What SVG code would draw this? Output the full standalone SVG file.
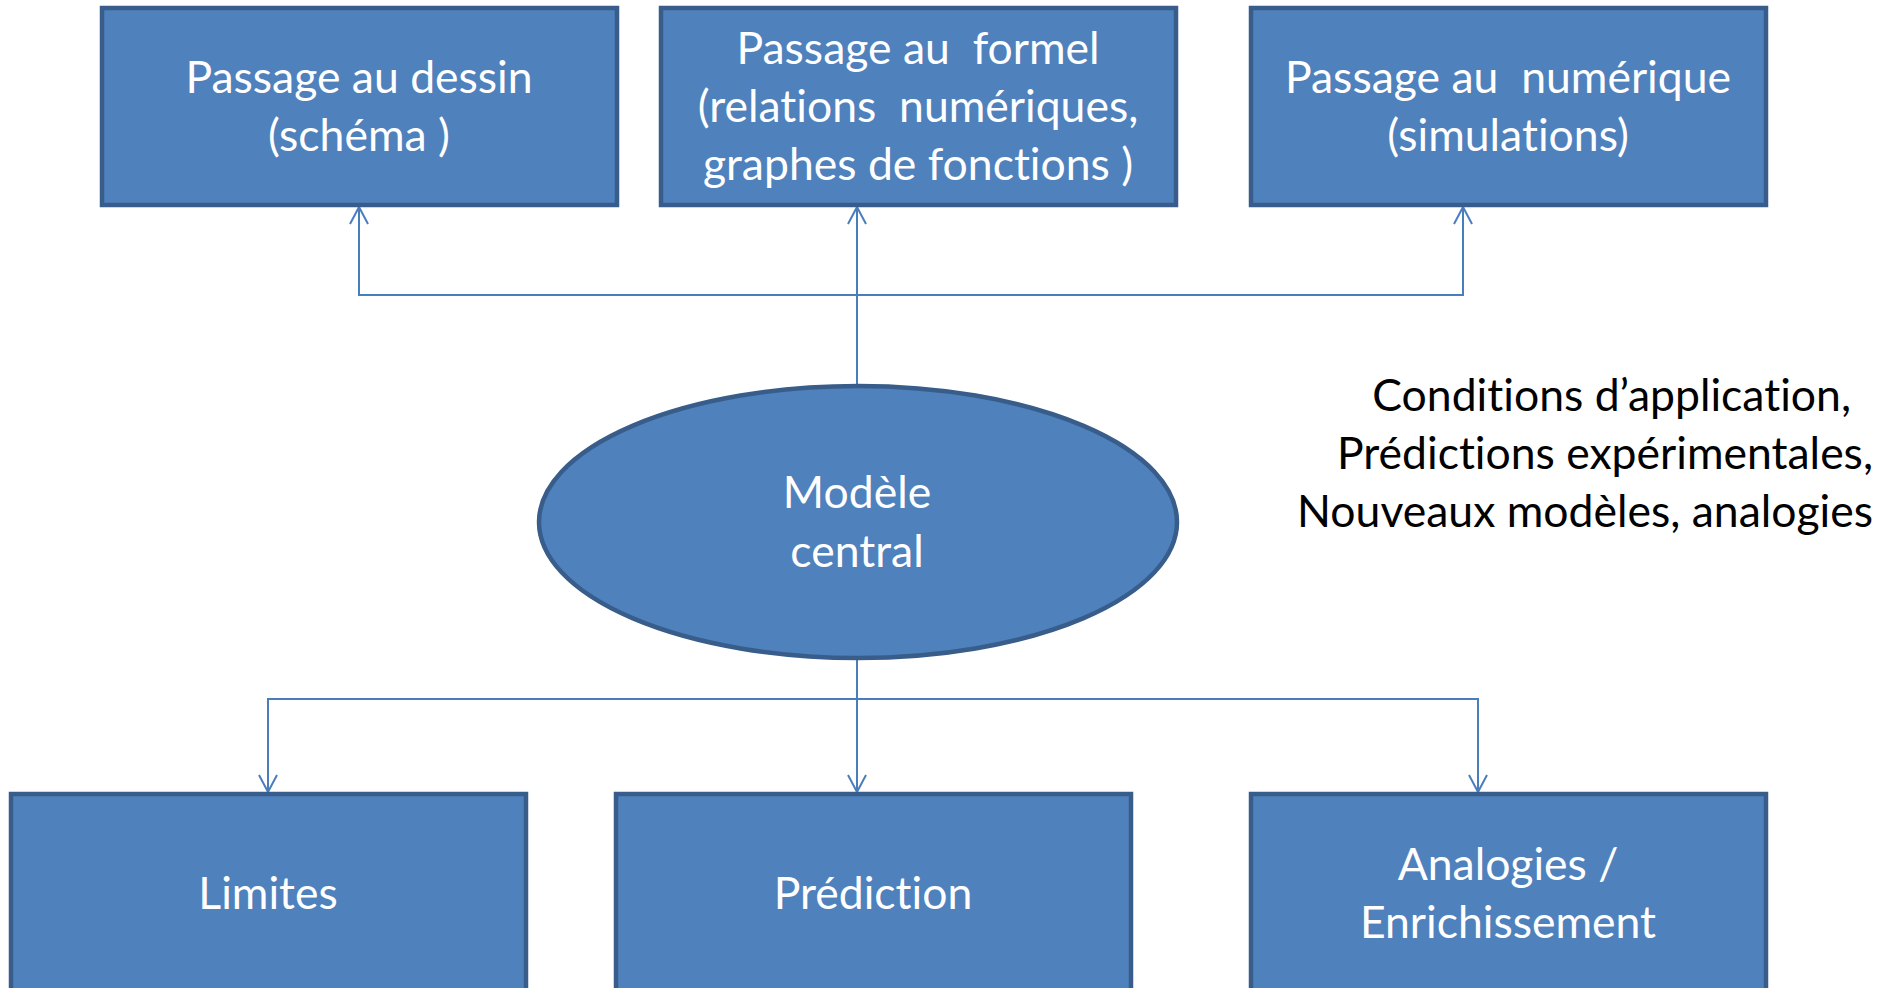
<svg xmlns="http://www.w3.org/2000/svg" width="1883" height="988" viewBox="0 0 1883 988">
<style>
.box{fill:#4f81bd;stroke:#385d8a;stroke-width:4.5}
.lbl{font-family:Lato,"Liberation Sans",sans-serif;font-size:44.5px;fill:#ffffff;text-anchor:middle;white-space:pre;font-variant-ligatures:none}
.side{font-family:Lato,"Liberation Sans",sans-serif;font-size:44.5px;fill:#000000;text-anchor:end;white-space:pre;font-variant-ligatures:none}
.con{fill:none;stroke:#4a7ebb;stroke-width:2}
</style>
<defs>
<marker id="arr" viewBox="0 0 20 20" refX="18" refY="10" markerWidth="20" markerHeight="20" markerUnits="userSpaceOnUse" orient="auto">
<path d="M1,1 L18,10 L1,19" fill="none" stroke="#4a7ebb" stroke-width="2"/>
</marker>
</defs>
<rect width="1883" height="988" fill="#ffffff"/>
<g id="connectors">
<path class="con" d="M857,385 L857,207" marker-end="url(#arr)"/>
<path class="con" d="M857,295 L359,295 L359,207" marker-end="url(#arr)"/>
<path class="con" d="M857,295 L1463,295 L1463,207" marker-end="url(#arr)"/>
<path class="con" d="M857,659 L857,792" marker-end="url(#arr)"/>
<path class="con" d="M857,699 L268,699 L268,792" marker-end="url(#arr)"/>
<path class="con" d="M857,699 L1478,699 L1478,792" marker-end="url(#arr)"/>
</g>
<g id="n-dessin">
<rect class="box" x="102" y="8" width="515" height="197"/>
<text class="lbl" x="359" y="93">Passage au dessin</text>
<text class="lbl" x="359" y="151">(schéma )</text>
</g>
<g id="n-formel">
<rect class="box" x="661" y="8" width="515" height="197"/>
<text class="lbl" x="918" y="64">Passage au  formel</text>
<text class="lbl" x="918" y="122">(relations  numériques,</text>
<text class="lbl" x="918" y="180">graphes de fonctions )</text>
</g>
<g id="n-numerique">
<rect class="box" x="1251" y="8" width="515" height="197"/>
<text class="lbl" x="1508" y="93">Passage au  numérique</text>
<text class="lbl" x="1508" y="151">(simulations)</text>
</g>
<g id="n-modele">
<ellipse class="box" cx="858" cy="522" rx="319" ry="136"/>
<text class="lbl" x="857" y="508">Modèle</text>
<text class="lbl" x="857" y="567">central</text>
</g>
<g id="n-limites">
<rect class="box" x="11" y="794" width="515" height="197"/>
<text class="lbl" x="268" y="909">Limites</text>
</g>
<g id="n-prediction">
<rect class="box" x="616" y="794" width="515" height="197"/>
<text class="lbl" x="873" y="909">Prédiction</text>
</g>
<g id="n-analogies">
<rect class="box" x="1251" y="794" width="515" height="197"/>
<text class="lbl" x="1508" y="880">Analogies /</text>
<text class="lbl" x="1508" y="938">Enrichissement</text>
</g>
<g id="n-conditions">
<text class="side" x="1851" y="411">Conditions d’application,</text>
<text class="side" x="1873" y="469">Prédictions expérimentales,</text>
<text class="side" x="1873" y="527">Nouveaux modèles, analogies</text>
</g>
</svg>
